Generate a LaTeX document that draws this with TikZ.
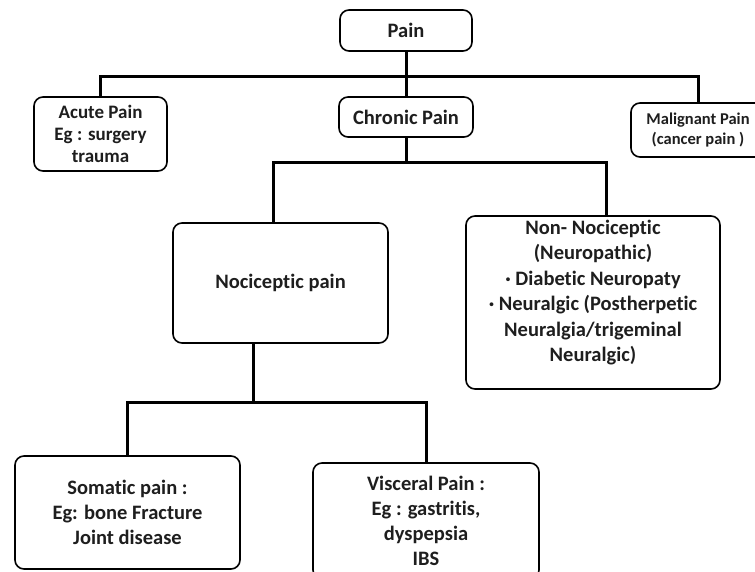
\documentclass[tikz,border=0pt]{standalone}
\usepackage{fontspec}
\setmainfont[Ligatures=NoCommon]{Carlito}
\usetikzlibrary{positioning}
\definecolor{inkgray}{HTML}{1E1E1E}

\begin{document}
\begin{tikzpicture}[x=1pt, y=-1pt,
  box/.style={draw=black, line width=1.6pt, rounded corners=9pt, align=center,
    text=inkgray, inner sep=0pt, font=\fontsize{20.5}{25}\selectfont\bfseries},
  smallbox/.style={box, font=\fontsize{19}{22}\selectfont\bfseries},
  tinybox/.style={box, font=\fontsize{16.5}{20}\selectfont\bfseries},
  boxtext/.style={align=center, text=inkgray, inner sep=0pt,
    font=\fontsize{20.5}{25.4}\selectfont\bfseries},
  conn/.style={black, line width=3pt}]

% Canvas
\useasboundingbox (0,0) rectangle (755,572);
\clip (0,0) rectangle (755,572);
\fill[white] (0,0) rectangle (755,572);

% Top level
\node[box, minimum width=132pt, minimum height=41pt] (pain) at (406,30.5) {Pain};

% Second level
\node[smallbox, minimum width=133pt, minimum height=74pt] (acute) at (100.5,134)
  {Acute Pain\\Eg : surgery\\trauma};
\node[box, minimum width=134pt, minimum height=40pt] (chronic) at (406,117) {Chronic Pain};
\node[tinybox, minimum width=134pt, minimum height=54pt] (malig) at (698,130)
  {Malignant Pain\\(cancer pain )};

% Chronic pain branches
\node[box, minimum width=215pt, minimum height=120pt] (noci) at (280.5,283) {Nociceptic pain};
\node[box, minimum width=254pt, minimum height=173pt] (nonnoci) at (593,302.5) {};
\node[boxtext] (nonnocitext) at ([yshift=10pt]nonnoci.center)
  {Non- Nociceptic\\(Neuropathic)\\· Diabetic Neuropaty\\· Neuralgic (Postherpetic\\Neuralgia/trigeminal\\Neuralgic)};

% Nociceptic branches
\node[box, minimum width=225pt, minimum height=113pt] (somatic) at (127.5,512.5)
  {Somatic pain :\\Eg: bone Fracture\\Joint disease};
\node[box, minimum width=226pt, minimum height=116pt] (visceral) at (426,521)
  {Visceral Pain :\\Eg : gastritis,\\dyspepsia\\IBS};

% Bus lines
\coordinate (bus1) at (406,77);
\coordinate (bus2l) at (273,163);
\coordinate (bus2r) at (606,163);
\coordinate (bus3) at (253,402);

\draw[conn] (pain.south) -- (chronic.north);
\draw[conn] (acute.north) |- (bus1) -| (malig.north);
\draw[conn] (chronic.south) -- (chronic.south |- bus2l);
\draw[conn] (bus2l |- noci.north) -- (bus2l) -- (bus2r) -- (bus2r |- nonnoci.north);
\draw[conn] (bus3 |- noci.south) -- (bus3);
\draw[conn] (somatic.north) |- (bus3) -| (visceral.north);

\end{tikzpicture}
\end{document}
